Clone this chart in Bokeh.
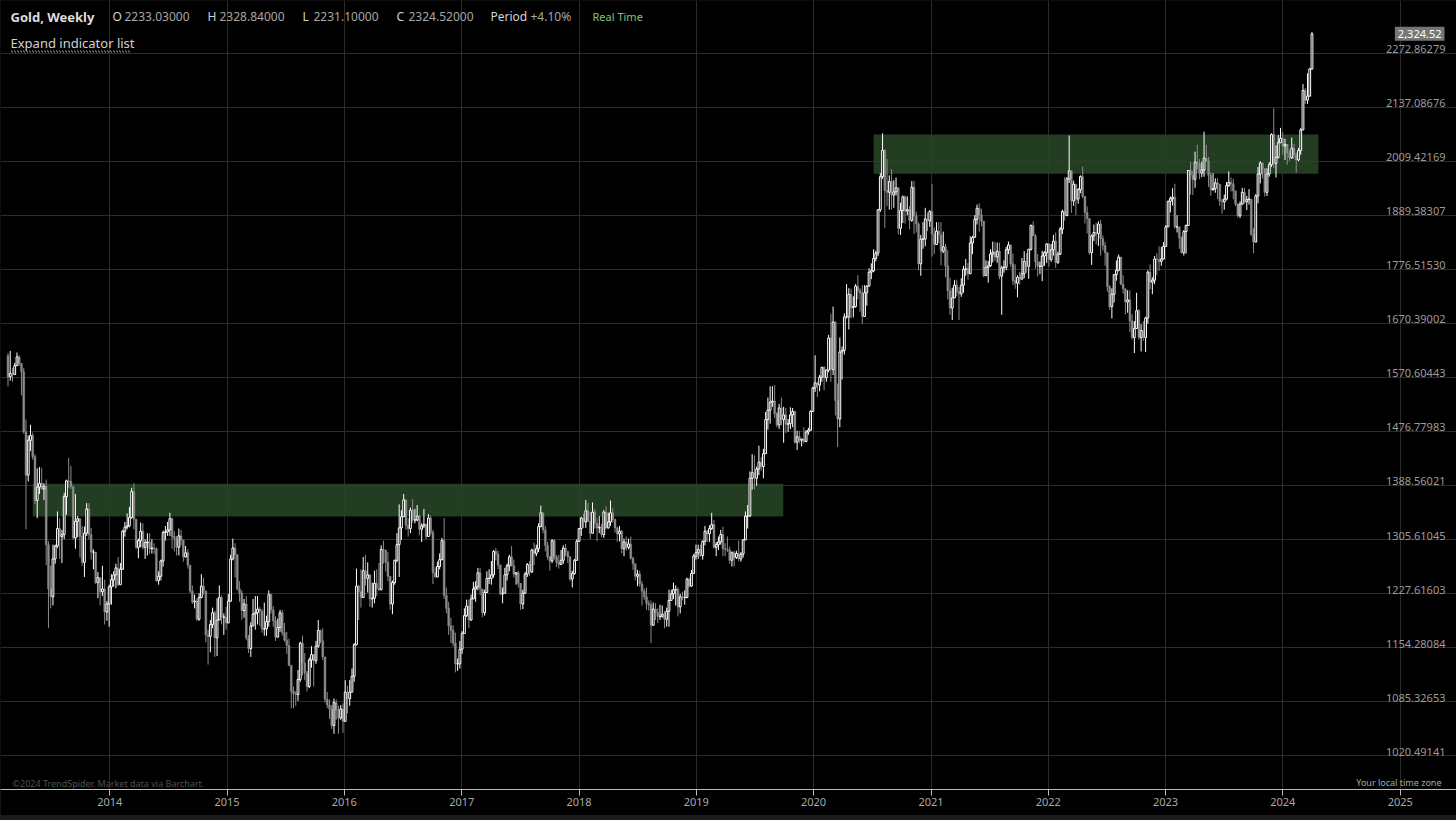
import numpy as np
import pandas as pd
from bokeh.plotting import figure
from bokeh.models import (Range1d, FixedTicker, DatetimeTickFormatter, Label,
                          BoxAnnotation, ColumnDataSource, Grid, GlobalInlineStyleSheet)
from bokeh.embed import file_html
from bokeh.resources import INLINE

# ---------------- data (weekly candles) ----------------
START = "2013-02-18"          # first weekly candle (Monday)
OPEN_FIRST = 1610.0           # open of the first candle; later opens = previous close

CLOSE = [
    # 2013
    1572,1578,1576,1592,1608,1596,1581,1476,1405,1462,1470,1435,1365,1386,1392,1383,1387,1298,1234,1223,1277,1296,1322,1310,1313,1371,1396,1395,1387,1308,1333,1337,1310,1272,1315,1352,1313,1287,1287,1243,1250,1230,1234,1202,1213,1237,
    # 2014
    1247,1254,1264,1240,1262,1318,1324,1326,1339,1379,1336,1294,1304,1318,1294,1301,1302,1292,1293,1292,1246,1252,1274,1316,1317,1320,1337,1310,1307,1294,1311,1305,1280,1286,1268,1231,1216,1217,1192,1222,1238,1231,1171,1169,1185,1201,1167,1191,1222,1195,1195,1187,
    # 2015
    1217,1277,1293,1283,1234,1228,1204,1213,1167,1153,1183,1199,1201,1206,1203,1179,1179,1189,1226,1205,1190,1168,1181,1201,1174,1164,1157,1131,1098,1095,1094,1113,1160,1134,1121,1104,1138,1145,1137,1156,1177,1163,1142,1088,1081,1076,1056,1084,1075,1065,1076,1061,
    # 2016
    1097,1089,1097,1117,1158,1238,1230,1222,1260,1249,1254,1220,1221,1242,1235,1233,1291,1290,1272,1252,1213,1243,1275,1298,1323,1340,1366,1327,1322,1350,1335,1335,1341,1321,1326,1328,1310,1338,1316,1257,1251,1266,1276,1304,1225,1207,1183,1177,1160,1133,1133,1152,
    # 2017
    1173,1197,1210,1191,1220,1234,1237,1257,1234,1201,1229,1249,1249,1254,1288,1284,1268,1227,1228,1254,1267,1280,1267,1255,1257,1242,1213,1228,1255,1269,1258,1290,1285,1292,1325,1346,1320,1297,1280,1274,1304,1280,1272,1269,1275,1293,1288,1280,1248,1256,1275,1303,
    # 2018
    1322,1338,1332,1349,1333,1315,1347,1330,1323,1324,1313,1347,1323,1332,1346,1336,1323,1314,1318,1292,1302,1294,1299,1278,1270,1252,1255,1241,1231,1223,1214,1212,1184,1206,1201,1196,1196,1199,1192,1203,1218,1227,1233,1233,1209,1223,1222,1222,1248,1238,1256,1281,1286,
    # 2019
    1291,1282,1303,1318,1314,1322,1328,1294,1298,1302,1313,1292,1291,1290,1275,1286,1279,1285,1277,1284,1305,1341,1341,1400,1409,1400,1415,1426,1419,1440,1497,1513,1527,1529,1507,1488,1517,1497,1505,1489,1490,1505,1511,1459,1468,1462,1464,1460,1476,1479,1511,1552,
    # 2020
    1561,1557,1571,1589,1570,1584,1643,1585,1673,1530,1498,1617,1620,1683,1683,1727,1701,1703,1743,1734,1730,1684,1730,1743,1771,1774,1799,1810,1902,1975,2035,1944,1940,1964,1934,1941,1950,1862,1900,1930,1899,1902,1879,1951,1889,1871,1788,1839,1839,1882,1878,1898,
    # 2021
    1850,1828,1856,1848,1814,1823,1784,1734,1700,1720,1745,1732,1728,1745,1777,1778,1768,1831,1843,1881,1905,1891,1877,1764,1781,1784,1808,1812,1802,1814,1763,1780,1781,1817,1827,1788,1754,1749,1761,1757,1768,1793,1783,1818,1868,1846,1792,1783,1783,1804,1811,1829,
    # 2022
    1797,1817,1835,1791,1808,1860,1898,1889,1970,1988,1921,1958,1925,1946,1975,1931,1896,1883,1811,1846,1853,1851,1871,1840,1826,1811,1742,1703,1727,1766,1775,1802,1747,1738,1712,1716,1675,1644,1661,1695,1644,1657,1644,1681,1771,1751,1755,1798,1797,1793,1798,1824,
    # 2023
    1865,1920,1926,1929,1865,1865,1842,1811,1855,1868,1989,1978,1969,2008,2004,1983,1990,2017,2011,1978,1946,1948,1961,1958,1921,1919,1925,1955,1962,1959,1943,1914,1889,1914,1940,1919,1924,1925,1849,1833,1932,1981,2006,1993,1940,1981,2002,2072,2005,2019,2053,2063,
    # 2024
    2045,2049,2029,2018,2040,2025,2013,2035,2083,2179,2155,2165,2233.03,2324.52,
]

HIGH = [
    # 2013
    1615,1619,1588,1597,1616,1611,1588,1588,1497,1470,1488,1475,1439,1416,1418,1417,1392,1398,1303,1267,1298,1298,1348,1338,1320,1377,1398,1433,1420,1385,1375,1341,1336,1326,1325,1361,1361,1323,1291,1287,1258,1250,1267,1247,1217,1240,
    # 2014
    1255,1259,1270,1280,1271,1320,1332,1345,1355,1385,1392,1337,1307,1331,1330,1306,1315,1315,1306,1300,1294,1259,1276,1319,1326,1332,1346,1339,1318,1311,1322,1320,1303,1296,1291,1268,1239,1226,1221,1228,1255,1250,1232,1178,1191,1208,1204,1221,1239,1225,1200,1209,
    # 2015
    1227,1283,1307,1300,1284,1245,1232,1220,1224,1171,1188,1220,1224,1224,1209,1206,1215,1197,1232,1228,1210,1196,1193,1205,1205,1187,1175,1166,1131,1104,1098,1125,1162,1170,1147,1124,1141,1156,1145,1163,1191,1178,1180,1142,1097,1088,1081,1089,1088,1080,1081,1083,
    # 2016
    1112,1105,1112,1127,1160,1263,1240,1262,1280,1283,1272,1251,1243,1260,1262,1271,1297,1304,1279,1287,1252,1246,1276,1315,1359,1350,1375,1366,1338,1354,1367,1352,1358,1343,1330,1352,1330,1344,1342,1320,1265,1273,1285,1308,1338,1236,1216,1194,1184,1174,1140,1163,
    # 2017
    1176,1207,1219,1219,1226,1244,1245,1264,1264,1234,1233,1259,1262,1274,1290,1293,1289,1269,1236,1264,1270,1283,1296,1276,1258,1260,1242,1233,1258,1271,1274,1292,1301,1298,1330,1357,1338,1326,1302,1281,1306,1306,1283,1283,1290,1297,1299,1288,1281,1260,1277,1306,
    # 2018
    1323,1340,1345,1366,1361,1347,1362,1352,1339,1341,1329,1350,1356,1346,1365,1353,1337,1325,1326,1320,1307,1310,1307,1310,1280,1270,1261,1260,1245,1235,1236,1218,1218,1215,1214,1207,1212,1211,1203,1208,1233,1233,1243,1239,1236,1227,1230,1232,1250,1250,1261,1284,1298,
    # 2019
    1298,1298,1304,1326,1320,1327,1346,1335,1302,1310,1320,1325,1300,1310,1295,1288,1289,1289,1304,1287,1306,1348,1358,1411,1439,1437,1419,1453,1434,1448,1510,1535,1555,1555,1557,1510,1524,1535,1519,1517,1498,1518,1517,1512,1478,1478,1465,1484,1479,1483,1513,1554,
    # 2020
    1611,1563,1575,1589,1591,1585,1649,1689,1703,1675,1560,1644,1627,1690,1747,1739,1738,1723,1747,1765,1739,1745,1745,1745,1779,1789,1818,1815,1902,1983,2075,2038,2015,1978,1992,1967,1973,1951,1917,1933,1933,1931,1910,1965,1965,1898,1875,1848,1875,1906,1896,1901,
    # 2021
    1959,1864,1875,1875,1875,1855,1829,1816,1760,1740,1755,1756,1741,1759,1784,1798,1790,1845,1846,1890,1913,1916,1904,1878,1795,1794,1818,1834,1833,1832,1832,1784,1795,1823,1834,1827,1809,1787,1765,1772,1800,1814,1810,1818,1870,1877,1850,1808,1793,1815,1814,1831,
    # 2022
    1831,1829,1848,1853,1813,1865,1902,1974,1974,2070,1990,1966,1944,1949,1978,1998,1920,1909,1884,1849,1870,1874,1877,1880,1847,1833,1812,1745,1739,1767,1795,1807,1802,1765,1729,1735,1735,1688,1675,1730,1698,1669,1675,1683,1775,1787,1761,1804,1810,1824,1823,1833,
    # 2023
    1869,1922,1931,1949,1959,1890,1862,1845,1858,1870,1990,2009,1988,2032,2048,2015,2009,2079,2048,2020,1985,1983,1971,1971,1947,1926,1935,1963,1987,1973,1970,1944,1916,1920,1950,1950,1932,1947,1925,1862,1936,1997,2010,2007,1994,1994,2008,2075,2135,2047,2071,2088,
    # 2024
    2078,2062,2039,2036,2065,2050,2030,2041,2088,2195,2185,2222,2236,2328.84,
]

LOW = [
    # 2013
    1555,1565,1563,1577,1596,1591,1539,1473,1321,1395,1444,1430,1359,1338,1375,1382,1366,1268,1180,1207,1211,1270,1293,1277,1271,1306,1343,1385,1383,1305,1292,1309,1279,1267,1251,1311,1305,1276,1262,1241,1221,1211,1224,1185,1190,1182,
    # 2014
    1212,1237,1235,1238,1240,1261,1310,1321,1324,1337,1321,1291,1278,1294,1291,1277,1282,1284,1285,1284,1244,1240,1246,1266,1304,1311,1311,1292,1288,1282,1282,1297,1273,1279,1263,1228,1213,1207,1190,1190,1221,1226,1161,1132,1148,1180,1142,1143,1193,1185,1171,1178,
    # 2015
    1187,1216,1275,1250,1232,1216,1191,1194,1164,1147,1142,1183,1178,1185,1183,1174,1170,1170,1182,1200,1182,1163,1170,1175,1170,1162,1146,1130,1077,1077,1080,1086,1110,1118,1112,1098,1102,1128,1104,1133,1154,1160,1138,1084,1077,1064,1052,1046,1063,1046,1063,1047,
    # 2016
    1062,1071,1080,1097,1110,1157,1191,1208,1226,1239,1229,1209,1208,1214,1224,1231,1232,1270,1259,1245,1205,1199,1240,1272,1251,1305,1340,1320,1310,1315,1331,1330,1333,1312,1302,1323,1306,1310,1312,1241,1250,1255,1262,1275,1220,1200,1171,1160,1156,1122,1124,1127,
    # 2017
    1146,1180,1195,1180,1190,1220,1216,1232,1225,1195,1197,1229,1241,1240,1250,1275,1262,1225,1214,1228,1246,1259,1266,1250,1240,1236,1205,1206,1227,1251,1252,1257,1268,1281,1287,1324,1315,1288,1276,1260,1271,1276,1265,1263,1269,1270,1281,1271,1245,1236,1254,1276,
    # 2018
    1302,1311,1323,1323,1332,1306,1316,1322,1303,1315,1309,1308,1321,1322,1326,1331,1316,1302,1303,1285,1281,1289,1291,1276,1261,1246,1238,1237,1211,1219,1205,1204,1160,1183,1191,1187,1191,1194,1180,1182,1182,1219,1220,1211,1196,1200,1218,1212,1221,1236,1237,1257,1276,
    # 2019
    1277,1280,1276,1297,1302,1302,1320,1292,1281,1290,1298,1281,1281,1287,1270,1266,1266,1277,1274,1273,1279,1305,1322,1340,1382,1382,1388,1405,1412,1400,1440,1480,1490,1519,1500,1484,1481,1487,1458,1474,1476,1481,1484,1456,1446,1457,1452,1457,1459,1471,1478,1510,
    # 2020
    1545,1536,1546,1563,1548,1563,1580,1563,1575,1504,1451,1484,1567,1612,1680,1659,1680,1682,1701,1717,1693,1670,1700,1705,1743,1757,1771,1793,1804,1897,1970,1863,1910,1902,1902,1906,1933,1849,1848,1873,1872,1890,1860,1876,1850,1853,1775,1764,1819,1824,1856,1865,
    # 2021
    1803,1808,1835,1831,1785,1810,1761,1717,1687,1677,1720,1723,1677,1722,1730,1764,1756,1767,1808,1842,1870,1855,1866,1761,1767,1750,1782,1791,1794,1790,1757,1687,1770,1775,1808,1782,1745,1738,1721,1746,1760,1759,1770,1758,1815,1846,1778,1762,1767,1753,1784,1790,
    # 2022
    1782,1792,1805,1780,1788,1806,1850,1878,1889,1961,1895,1910,1890,1915,1938,1927,1872,1851,1807,1786,1835,1828,1825,1805,1816,1784,1732,1697,1680,1711,1754,1773,1745,1728,1688,1691,1654,1640,1615,1660,1640,1618,1638,1617,1670,1737,1727,1747,1765,1774,1784,1797,
    # 2023
    1824,1867,1896,1911,1861,1853,1819,1809,1805,1809,1885,1935,1934,1950,1992,1969,1974,1975,2008,1952,1932,1943,1939,1925,1910,1893,1902,1922,1952,1942,1925,1910,1885,1884,1913,1915,1901,1913,1846,1810,1833,1916,1960,1971,1931,1932,1975,1997,1995,1973,2016,2058,
    # 2024
    2024,2013,2002,2010,2015,2015,1984,2010,2025,2083,2146,2146,2164,2231.10,
]

Y_TICKS = [1020.49141, 1085.32653, 1154.28084, 1227.61603, 1305.61045, 1388.56021,
           1476.77983, 1570.60443, 1670.39002, 1776.51530, 1889.38307, 2009.42169,
           2137.08676, 2272.86279]
YEARS = list(range(2014, 2026))

ZONE_START = ["2013-05-06", "2020-07-06"]
ZONE_END = ["2019-09-29", "2024-04-21"]
ZONE_LOW = [1340.3, 1981.4]
ZONE_HIGH = [1391.3, 2072.3]

# ---------------- derived ----------------
close = np.array(CLOSE, dtype=float)
high = np.array(HIGH, dtype=float)
low = np.array(LOW, dtype=float)
open_ = np.concatenate([[OPEN_FIRST], close[:-1]])
high = np.maximum(high, np.maximum(open_, close))
low = np.minimum(low, np.minimum(open_, close))
dates = pd.date_range(START, periods=len(close), freq="7D")
bull = close >= open_

def src(mask):
    return ColumnDataSource(dict(
        x=dates[mask], top=np.maximum(open_, close)[mask], bottom=np.minimum(open_, close)[mask],
        high=high[mask], low=low[mask]))

bull_src = src(bull)
bear_src = src(~bull)

# ---------------- layout constants (page pixels) ----------------
W, H = 1456, 815
FRAME_BOTTOM = 789
X2014 = 109.3
PX_PER_DAY = 0.32118
PX_PER_LN = 876.7
ref = pd.Timestamp("2014-01-01")
x_start = ref + pd.Timedelta(days=(0 - X2014) / PX_PER_DAY)
x_end = ref + pd.Timedelta(days=(W - X2014) / PX_PER_DAY)
y_top = 2272.86279 * np.exp(53 / PX_PER_LN)
y_bot = 1020.49141 * np.exp(-(FRAME_BOTTOM - 755) / PX_PER_LN)
to_ms = lambda t: pd.Timestamp(t).value / 1e6

p = figure(width=W, height=H, x_axis_type="datetime", y_axis_type="log",
           y_axis_location=None, output_backend="svg", toolbar_location=None,
           x_range=Range1d(to_ms(x_start), to_ms(x_end)),
           y_range=Range1d(y_bot, y_top),
           min_border_left=0, min_border_right=0, min_border_top=0,
           min_border_bottom=H - FRAME_BOTTOM,
           background_fill_color="black", border_fill_color="black", outline_line_color=None)
p.stylesheets = [GlobalInlineStyleSheet(css="html, body { background-color: #1b1b1b; margin: 0; overflow: hidden; }")]
p.grid.visible = False

year_ms = [to_ms(f"{y}-01-01") for y in YEARS]
GRID = "#2c2c2c"
p.add_layout(Grid(dimension=0, ticker=FixedTicker(ticks=year_ms), grid_line_color=GRID))
p.add_layout(Grid(dimension=1, ticker=FixedTicker(ticks=Y_TICKS), grid_line_color=GRID))

ax = p.xaxis[0]
ax.ticker = FixedTicker(ticks=year_ms)
ax.formatter = DatetimeTickFormatter(years="%Y", months="%Y", days="%Y", hours="%Y",
                                     hourmin="%Y", minutes="%Y", minsec="%Y", seconds="%Y",
                                     milliseconds="%Y", microseconds="%Y")
ax.axis_line_color = "#bdbdbd"
ax.major_tick_line_color = "#bdbdbd"
ax.major_tick_out = 6
ax.major_tick_in = 0
ax.minor_tick_line_color = None
ax.major_label_text_color = "#a8a8a8"
ax.major_label_text_font = "Noto Sans"
ax.major_label_text_font_size = "11px"
ax.major_label_standoff = 2

# resistance zones
p.quad(left=[pd.Timestamp(s) for s in ZONE_START], right=[pd.Timestamp(s) for s in ZONE_END],
       bottom=ZONE_LOW, top=ZONE_HIGH, fill_color="#284628", fill_alpha=0.88, line_color=None)

# candles
WIDTH_MS = 0.8 * 7 * 24 * 3600 * 1000
BEAR = "#8c8c8c"
p.segment(x0="x", y0="low", x1="x", y1="high", source=bear_src, line_color=BEAR, line_width=1)
p.vbar(x="x", width=WIDTH_MS, top="top", bottom="bottom", source=bear_src,
       fill_color=BEAR, line_color=BEAR, line_width=0.5)
p.segment(x0="x", y0="low", x1="x", y1="high", source=bull_src, line_color="white", line_width=1)
p.vbar(x="x", width=WIDTH_MS, top="top", bottom="bottom", source=bull_src,
       fill_color="black", line_color="white", line_width=1)

# ---------------- texts ----------------
FONT = "Noto Sans"
def lab(text, px, py, size, color, style="normal", align="left"):
    p.add_layout(Label(x=px, y=FRAME_BOTTOM - py, x_units="screen", y_units="screen",
                       text=text, text_font=FONT, text_font_size=f"{size}px", text_color=color,
                       text_font_style=style, text_align=align, text_baseline="middle"))

LIGHT, MID = "#d2d2d2", "#a6a6a6"
last_o, last_h, last_l, last_c = open_[-1], high[-1], low[-1], close[-1]
period = (last_c / last_o - 1) * 100

lab("Gold, Weekly", 10, 16, 13, "#dedede", style="bold")
lab("O", 112, 16, 12, LIGHT); lab(f"{last_o:.5f}", 124, 16, 12, MID)
lab("H", 207, 16, 12, LIGHT); lab(f"{last_h:.5f}", 219, 16, 12, MID)
lab("L", 302, 16, 12, LIGHT); lab(f"{last_l:.5f}", 313, 16, 12, MID)
lab("C", 396, 16, 12, LIGHT); lab(f"{last_c:.5f}", 408, 16, 12, MID)
lab("Period", 490, 16, 12, LIGHT); lab(f"+{period:.2f}%", 530, 16, 12, MID)
lab("Real Time", 592, 16, 11, "#7dc47d")
lab("Expand indicator list", 10, 42, 13, LIGHT)
# dotted underline (thin box whose top/bottom edges are dotted)
p.add_layout(BoxAnnotation(left=10.5, right=129.5, bottom=FRAME_BOTTOM - 51.5, top=FRAME_BOTTOM - 50.5,
                           left_units="screen", right_units="screen", top_units="screen", bottom_units="screen",
                           fill_color="#000000", fill_alpha=0.0, line_color="#b0b0b0", line_alpha=1.0,
                           line_dash="1 2", line_width=1, level="overlay"))

lab("\u00a92024 TrendSpider. Market data via Barchart.", 12, 783, 9, "#505050")
lab("Your local time zone", 1441, 782, 9, MID, align="right")

# right price scale labels
for t in Y_TICKS:
    p.add_layout(Label(x=1445, y=t, x_units="screen", y_units="data", text=f"{t:.5f}",
                       text_font=FONT, text_font_size="11px", text_color="#9c9c9c",
                       text_align="right", text_baseline="bottom"))

# last price marker
p.add_layout(Label(x=1444, y=last_c, x_units="screen", y_units="data", text=f"{last_c:,.2f}",
                   text_font=FONT, text_font_size="11px", text_color="white",
                   text_align="right", text_baseline="middle",
                   background_fill_color="#767676", padding=3))

open("out.html", "w").write(file_html(p, INLINE, title="Gold, Weekly"))
